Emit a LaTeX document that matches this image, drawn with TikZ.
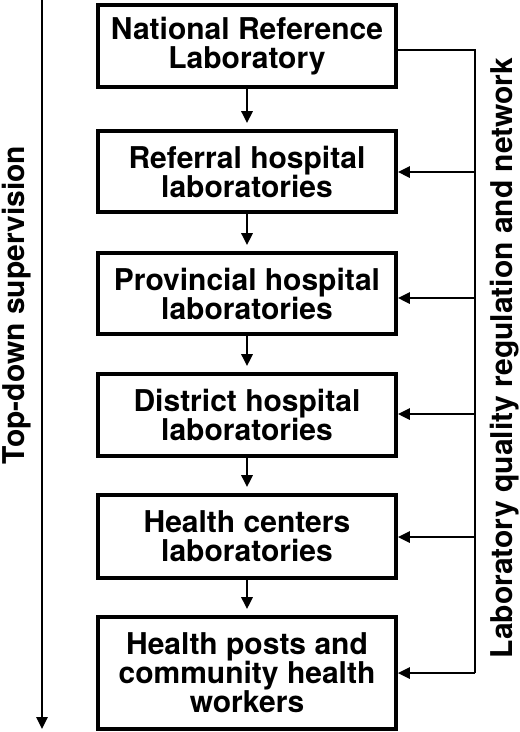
\documentclass[tikz,border=0pt]{standalone}
\usepackage{fontspec}
\setmainfont{TeX Gyre Heros}
\usetikzlibrary{arrows.meta}
\begin{document}
\begin{tikzpicture}[x=1pt,y=1pt,
  font=\bfseries\fontsize{30}{29}\selectfont,
  levelbox/.style={draw, line width=3.6pt, fill=white, minimum width=298pt, align=center, inner sep=0pt},
  conn/.style={line width=2.6pt, -{Triangle[length=12pt,width=11pt]}},
  plain/.style={line width=2.6pt},
  sidelabel/.style={rotate=90, inner sep=0pt, anchor=center}]
\useasboundingbox (0,0) rectangle (520,-732);
\node[levelbox, minimum height=82pt] (n1) at (247,-46) {National Reference\\Laboratory};
\node[levelbox, minimum height=81pt] (n2) at (247,-171.5) {Referral hospital\\laboratories};
\node[levelbox, minimum height=81pt] (n3) at (247,-293.5) {Provincial hospital\\laboratories};
\node[levelbox, minimum height=82pt] (n4) at (247,-415) {District hospital\\laboratories};
\node[levelbox, minimum height=83pt] (n5) at (247,-536.5) {Health centers\\laboratories};
\node[levelbox, minimum height=112pt] (n6) at (247,-673) {Health posts and\\community health\\workers};
% top-down arrows
\foreach \a/\b in {n1/n2,n2/n3,n3/n4,n4/n5,n5/n6}
  \draw[conn, shorten >=6pt] (\a.south) -- (\b.north);
% left supervision arrow
\coordinate (ltop) at (42,0);
\coordinate (lbot) at (42,-729);
\draw[conn] (ltop) -- (lbot);
\node[sidelabel] (lsup) at (16.5,-305) {Top-down supervision};
% right bus
\coordinate (btop) at (475,-50);
\coordinate (b2) at (475,-172);
\coordinate (b3) at (475,-298);
\coordinate (b4) at (475,-414);
\coordinate (b5) at (475,-537);
\coordinate (b6) at (475,-673);
\draw[plain, line join=miter] (n1.east |- btop) -- (btop) -- (b6);
\foreach \c/\n in {b2/n2,b3/n3,b4/n4,b5/n5}
  \draw[conn] (\c) -- (\c -| \n.east);
\draw[conn] (b6) -- (b6 -| n6.east);
\node[sidelabel] (rlab) at (504.5,-358) {Laboratory quality regulation and network};
\end{tikzpicture}
\end{document}
